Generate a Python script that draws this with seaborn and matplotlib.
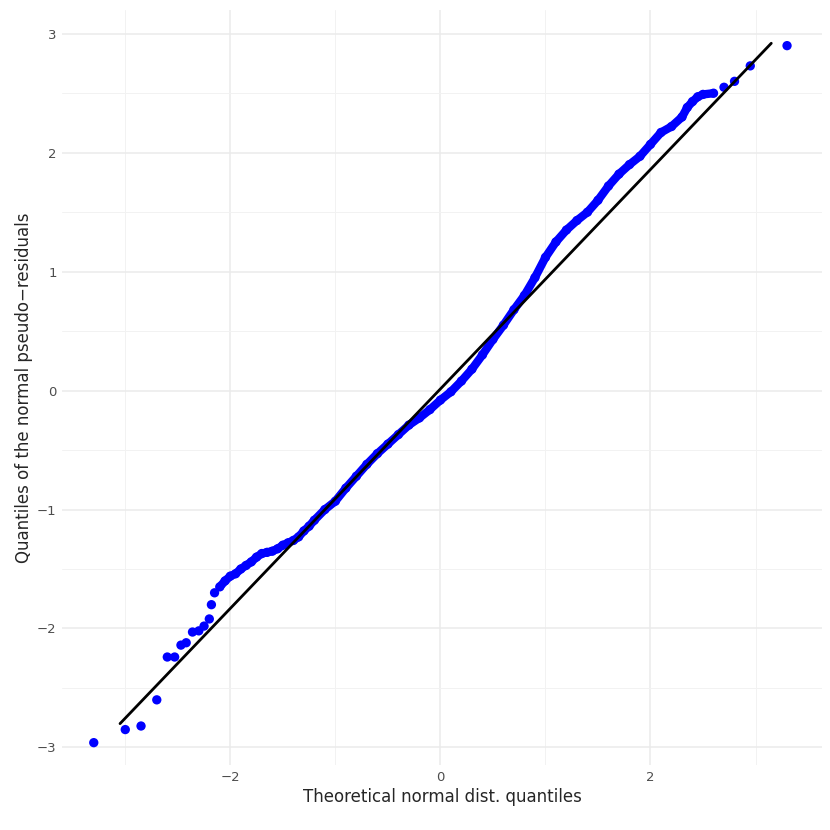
import numpy as np
import pandas as pd
import matplotlib
matplotlib.use("Agg")
import matplotlib.pyplot as plt
import seaborn as sns

# theoretical quantiles / sample quantiles
theo = [-3.3, -3.0, -2.85, -2.7, -2.6, -2.53, -2.47, -2.42, -2.36, -2.3, -2.25,
        -2.2, -2.18, -2.15, -2.1, -2.05, -2.0, -1.95, -1.9, -1.85, -1.8, -1.75,
        -1.7, -1.65, -1.6, -1.55, -1.5, -1.45, -1.4, -1.35, -1.3, -1.25, -1.2,
        -1.1, -1.0, -0.9, -0.8, -0.7, -0.6, -0.5, -0.4, -0.3, -0.2, -0.1, 0.0,
        0.1, 0.2, 0.3, 0.4, 0.5, 0.6, 0.7, 0.8, 0.9, 1.0, 1.1, 1.2, 1.3, 1.4,
        1.5, 1.6, 1.7, 1.8, 1.9, 2.0, 2.1, 2.2, 2.3, 2.35, 2.4, 2.45, 2.5, 2.6,
        2.7, 2.8, 2.95, 3.3]
sample = [-2.96, -2.85, -2.82, -2.6, -2.24, -2.24, -2.14, -2.12, -2.03, -2.02, -1.98,
          -1.92, -1.8, -1.7, -1.65, -1.6, -1.56, -1.54, -1.5, -1.47, -1.44, -1.4,
          -1.37, -1.36, -1.35, -1.33, -1.3, -1.28, -1.26, -1.23, -1.18, -1.14, -1.09,
          -1.0, -0.93, -0.82, -0.72, -0.62, -0.53, -0.45, -0.37, -0.29, -0.23, -0.16, -0.08,
          -0.01, 0.08, 0.18, 0.3, 0.43, 0.55, 0.68, 0.8, 0.95, 1.12, 1.25, 1.35, 1.43, 1.5,
          1.6, 1.72, 1.82, 1.9, 1.97, 2.07, 2.17, 2.22, 2.3, 2.38, 2.43, 2.47, 2.49, 2.5,
          2.55, 2.6, 2.73, 2.9]
line_x = [-3.05, 3.15]
line_y = [-2.8, 2.92]

df = pd.DataFrame({"theo": theo, "sample": sample})
dense = df[(df.theo >= -2.1) & (df.theo <= 2.6)]

sns.set_theme(style="whitegrid")
plt.rcParams["font.family"] = ["DejaVu Sans"]
fig = plt.figure(figsize=(8.3, 8.3), dpi=100)
ax = fig.add_axes([0.075, 0.078, 0.915, 0.91])

sns.lineplot(data=dense, x="theo", y="sample", color="#0000ff", lw=6, ax=ax, sort=False)
sns.scatterplot(data=df, x="theo", y="sample", color="#0000ff", s=45, edgecolor="none", ax=ax)
ax.plot(line_x, line_y, color="black", lw=2)

ax.set_xlim(-3.6, 3.63)
ax.set_ylim(-3.15, 3.2)
ax.set_xticks([-2, 0, 2])
ax.set_yticks([-3, -2, -1, 0, 1, 2, 3])
ax.set_xticklabels(["\u22122", "0", "2"])
ax.set_yticklabels(["\u22123", "\u22122", "\u22121", "0", "1", "2", "3"])
ax.set_xticks([-3, -1, 1, 3], minor=True)
ax.set_yticks([-2.5, -1.5, -0.5, 0.5, 1.5, 2.5], minor=True)
ax.grid(which="major", color="#ebebeb", lw=1.1)
ax.grid(which="minor", color="#f2f2f2", lw=0.7)
for s in ax.spines.values():
    s.set_visible(False)
ax.tick_params(which="both", length=0, labelsize=9.5, labelcolor="#4d4d4d", pad=4)
ax.set_xlabel("Theoretical normal dist. quantiles", fontsize=12, labelpad=3)
ax.set_ylabel("Quantiles of the normal pseudo\u2212residuals", fontsize=12, labelpad=3)

fig.savefig("out.png", dpi=100)
